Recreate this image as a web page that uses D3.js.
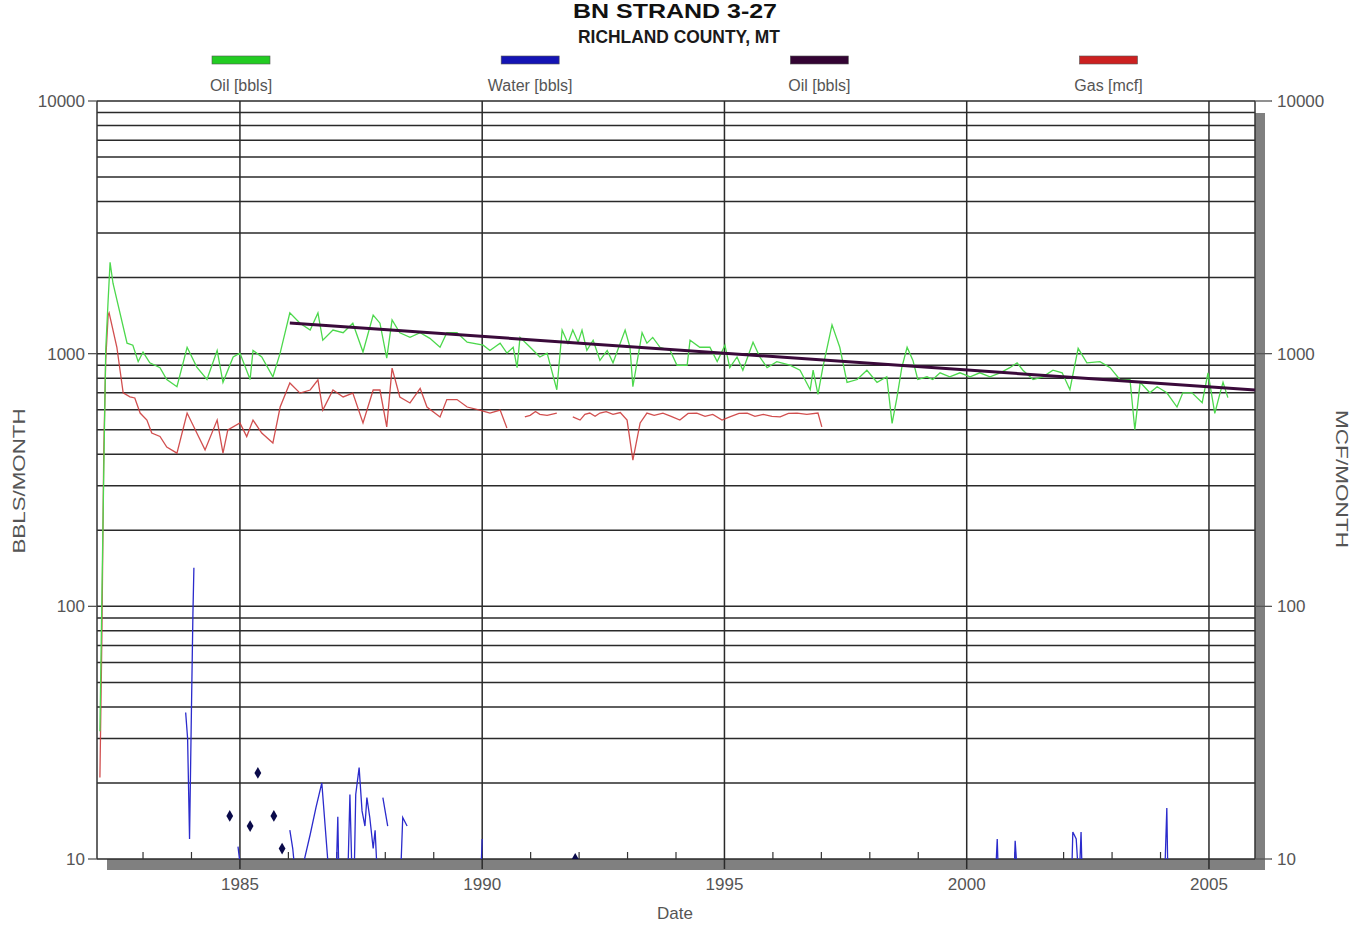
<!DOCTYPE html>
<html>
<head>
<meta charset="utf-8">
<script src="https://cdn.jsdelivr.net/npm/d3@7"></script>
<style>
  html, body { margin: 0; padding: 0; background: #ffffff; }
  svg { display: block; }
  text { font-family: "Liberation Sans", Arial, sans-serif; }
</style>
</head>
<body>
<svg id="chart" width="1364" height="926"></svg>
<script>
// ---- Well production history: [decimal year, monthly volume] ----
const oilMonthly = [
  [1982.11, 32], [1982.15, 106], [1982.19, 346], [1982.23, 1035], [1982.28, 1630], [1982.32, 2300],
  [1982.38, 1900], [1982.67, 1100], [1982.79, 1080], [1982.90, 930], [1983.00, 1015], [1983.14, 920],
  [1983.35, 880], [1983.49, 790], [1983.70, 740], [1983.91, 1060], [1984.11, 885], [1984.32, 790],
  [1984.53, 1030], [1984.65, 770], [1984.86, 970], [1985.00, 1005], [1985.21, 790], [1985.27, 1030],
  [1985.45, 970], [1985.68, 810], [1985.83, 1005], [1986.03, 1450], [1986.24, 1320], [1986.45, 1240],
  [1986.61, 1450], [1986.71, 1130], [1986.92, 1240], [1987.13, 1210], [1987.33, 1320], [1987.54, 1015],
  [1987.75, 1420], [1987.89, 1320], [1988.03, 960], [1988.14, 1360], [1988.30, 1210], [1988.51, 1160],
  [1988.72, 1210], [1988.92, 1150], [1989.13, 1060], [1989.27, 1210], [1989.48, 1210], [1989.69, 1110],
  [1990.02, 1080], [1990.16, 1030], [1990.37, 1100], [1990.51, 1005], [1990.64, 1060], [1990.72, 880],
  [1990.78, 1160], [1990.99, 1060], [1991.19, 970], [1991.34, 1005], [1991.54, 720], [1991.65, 1240],
  [1991.77, 1100], [1991.87, 1240], [1991.98, 1110], [1992.06, 1240], [1992.16, 1030], [1992.29, 1130],
  [1992.43, 940], [1992.58, 1030], [1992.70, 920], [1992.95, 1240], [1993.05, 1060], [1993.11, 740],
  [1993.30, 1210], [1993.40, 1100], [1993.52, 1160], [1993.67, 1060], [1993.88, 1030], [1994.02, 900],
  [1994.23, 900], [1994.29, 1130], [1994.49, 1060], [1994.70, 1060], [1994.85, 930], [1995.01, 1080],
  [1995.11, 880], [1995.26, 970], [1995.38, 860], [1995.59, 1110], [1995.73, 970], [1995.88, 880],
  [1996.08, 930], [1996.35, 900], [1996.56, 860], [1996.77, 720], [1996.83, 860], [1996.93, 690],
  [1997.03, 880], [1997.22, 1300], [1997.38, 1060], [1997.53, 770], [1997.74, 790], [1997.94, 860],
  [1998.15, 770], [1998.35, 810], [1998.46, 530], [1998.56, 670], [1998.66, 880], [1998.77, 1060],
  [1998.89, 940], [1998.99, 790], [1999.18, 810], [1999.30, 790], [1999.45, 840], [1999.65, 810],
  [1999.86, 840], [2000.07, 810], [2000.27, 840], [2000.48, 810], [2000.69, 840], [2000.89, 880],
  [2001.04, 920], [2001.16, 860], [2001.37, 790], [2001.57, 810], [2001.78, 860], [2001.97, 840],
  [2002.13, 720], [2002.30, 1050], [2002.48, 920], [2002.75, 930], [2002.96, 880], [2003.16, 790],
  [2003.37, 790], [2003.47, 500], [2003.58, 770], [2003.78, 700], [2003.93, 740], [2004.13, 700],
  [2004.34, 615], [2004.46, 700], [2004.65, 700], [2004.86, 640], [2004.98, 840], [2005.12, 580],
  [2005.23, 700], [2005.29, 770], [2005.39, 670]
];

// null marks a break in reporting
const gasMonthly = [
  [1982.11, 21], [1982.15, 74], [1982.19, 416], [1982.23, 944], [1982.28, 1420], [1982.30, 1450],
  [1982.46, 1060], [1982.59, 700], [1982.73, 675], [1982.83, 668], [1982.94, 582], [1983.08, 546],
  [1983.18, 485], [1983.35, 470], [1983.49, 427], [1983.70, 404], [1983.91, 582], [1984.11, 485],
  [1984.28, 416], [1984.53, 546], [1984.65, 404], [1984.75, 499], [1985.00, 532], [1985.14, 470],
  [1985.27, 546], [1985.45, 485], [1985.68, 443], [1985.83, 615], [1986.03, 766], [1986.24, 698],
  [1986.45, 718], [1986.61, 787], [1986.71, 598], [1986.92, 718], [1987.13, 674], [1987.33, 698],
  [1987.54, 532], [1987.75, 718], [1987.89, 718], [1988.03, 513], [1988.14, 877], [1988.30, 674],
  [1988.51, 638], [1988.72, 728], [1988.86, 615], [1989.13, 562], [1989.27, 658], [1989.48, 658],
  [1989.69, 615], [1989.95, 598], [1990.16, 582], [1990.37, 598], [1990.51, 508], [1990.60, null],
  [1990.88, 562], [1990.99, 570], [1991.10, 590], [1991.19, 575], [1991.34, 570], [1991.54, 582],
  [1991.70, null],
  [1991.87, 562], [1992.02, 546], [1992.12, 575], [1992.22, 582], [1992.33, 565], [1992.43, 582],
  [1992.56, 590], [1992.70, 575], [1992.85, 585], [1992.99, 546], [1993.11, 379], [1993.26, 532],
  [1993.40, 582], [1993.55, 570], [1993.73, 582], [1993.90, 565], [1994.08, 546], [1994.25, 580],
  [1994.43, 582], [1994.60, 565], [1994.76, 575], [1994.95, 546], [1995.11, 562], [1995.30, 580],
  [1995.47, 582], [1995.63, 565], [1995.80, 575], [1995.98, 565], [1996.15, 562], [1996.32, 580],
  [1996.50, 582], [1996.70, 575], [1996.93, 582], [1997.01, 513]
];

// values under 10 run off the bottom of the log axis
const waterMonthly = [
  [1983.88, 38], [1983.92, 30], [1983.96, 12], [1984.00, 40], [1984.03, 94], [1984.05, 142], [1984.06, null],
  [1984.96, 11.2], [1985.02, 9], [1985.03, null],
  [1986.03, 13], [1986.09, 11], [1986.16, 8], [1986.30, 9.4], [1986.45, 12.5], [1986.57, 16],
  [1986.69, 20], [1986.82, 9.5], [1986.99, 9], [1987.02, 14.7], [1987.04, 9], [1987.23, 9],
  [1987.27, 18], [1987.31, 9], [1987.36, 9], [1987.39, 18], [1987.46, 23], [1987.52, 15.5],
  [1987.58, 13.5], [1987.62, 17.5], [1987.68, 14.6], [1987.75, 11], [1987.79, 13], [1987.83, 9],
  [1987.90, null],
  [1987.95, 17.5], [1988.05, 13.5], [1988.10, null],
  [1988.32, 9], [1988.36, 14.6], [1988.45, 13.5], [1988.50, null],
  [1989.98, 9.5], [1990.00, 12], [1990.02, null],
  [2000.60, 9], [2000.63, 12], [2000.65, 9], [2000.70, null],
  [2000.98, 9], [2001.00, 11.8], [2001.04, 9], [2001.10, null],
  [2002.17, 9], [2002.19, 12.8], [2002.26, 12], [2002.30, 9], [2002.33, 9], [2002.36, 12.8], [2002.38, 9],
  [2002.45, null],
  [2004.09, 9], [2004.13, 15.9], [2004.15, 9]
];

// isolated single-month water volumes
const waterSingles = [
  [1984.79, 14.8], [1985.21, 13.5], [1985.37, 21.9], [1985.70, 14.8], [1985.87, 11], [1991.92, 10]
];

// oil decline curve end points
const oilDecline = [[1986.03, 1322], [2005.95, 718]];

const legendItems = [
  { label: "Oil [bbls]", color: "#22cc22" },
  { label: "Water [bbls]", color: "#1414b4" },
  { label: "Oil [bbls]", color: "#330433" },
  { label: "Gas [mcf]", color: "#cc2020" }
];

const yearLabels = [1985, 1990, 1995, 2000, 2005];
const yearMinor = d3.range(1983, 2006);
const logLabels = [10, 100, 1000, 10000];

// ---- layout ----
const svg = d3.select("#chart");
const plot = { left: 97, right: 1255, top: 101, bottom: 859 };
const shadowOff = 11;

const x = d3.scaleLinear().domain([1982.05, 2005.95]).range([plot.left, plot.right]);
const y = d3.scaleLog().domain([10, 10000]).range([plot.bottom, plot.top]);

// titles
svg.append("text")
  .attr("x", 675).attr("y", 18)
  .attr("text-anchor", "middle")
  .attr("font-family", "'Liberation Sans Narrow', 'Liberation Sans', Arial, sans-serif")
  .attr("font-weight", "bold").attr("font-size", 21).attr("fill", "#111")
  .attr("textLength", 204).attr("lengthAdjust", "spacingAndGlyphs")
  .text("BN STRAND 3-27");
svg.append("text")
  .attr("x", 679).attr("y", 43)
  .attr("text-anchor", "middle")
  .attr("font-family", "'Liberation Sans Narrow', 'Liberation Sans', Arial, sans-serif")
  .attr("font-weight", "bold").attr("font-size", 19).attr("fill", "#1a1a1a")
  .attr("textLength", 202).attr("lengthAdjust", "spacingAndGlyphs")
  .text("RICHLAND COUNTY, MT");

// legend
const legendX = d3.scalePoint().domain(d3.range(legendItems.length)).range([241, 1108.5]);
const lg = svg.append("g").selectAll("g").data(legendItems).join("g")
  .attr("transform", (d, i) => `translate(${legendX(i)},0)`);
lg.append("rect")
  .attr("x", -29).attr("y", 56).attr("width", 58).attr("height", 8)
  .attr("fill", d => d.color).attr("stroke", "#555").attr("stroke-width", 0.6);
lg.append("text")
  .attr("x", 0).attr("y", 91).attr("text-anchor", "middle")
  .attr("font-size", 16).attr("fill", "#555")
  .text(d => d.label);

// drop shadow of the plot frame
svg.append("rect")
  .attr("x", plot.left + 10).attr("y", plot.bottom)
  .attr("width", plot.right - plot.left).attr("height", shadowOff)
  .attr("fill", "#808080");
svg.append("rect")
  .attr("x", plot.right).attr("y", plot.top + 12)
  .attr("width", 10).attr("height", plot.bottom - plot.top - 12 + shadowOff)
  .attr("fill", "#808080");

// horizontal log grid
const gridVals = [];
[10, 100, 1000].forEach(dec => { for (let k = 1; k <= 9; k++) gridVals.push(dec * k); });
gridVals.push(10000);
svg.append("g").selectAll("line").data(gridVals).join("line")
  .attr("x1", plot.left).attr("x2", plot.right)
  .attr("y1", d => y(d)).attr("y2", d => y(d))
  .attr("stroke", "#2a2a2a").attr("stroke-width", 1.5);

// vertical year grid
svg.append("g").selectAll("line").data(yearLabels).join("line")
  .attr("x1", d => x(d)).attr("x2", d => x(d))
  .attr("y1", plot.top).attr("y2", plot.bottom + shadowOff - 1)
  .attr("stroke", "#2a2a2a").attr("stroke-width", 1.5);

// frame
svg.append("line").attr("x1", plot.left).attr("x2", plot.left)
  .attr("y1", plot.top).attr("y2", plot.bottom).attr("stroke", "#333").attr("stroke-width", 1.5);
svg.append("line").attr("x1", plot.right).attr("x2", plot.right)
  .attr("y1", plot.top).attr("y2", plot.bottom).attr("stroke", "#333").attr("stroke-width", 1.5);

// minor yearly ticks on the bottom edge
svg.append("g").selectAll("line").data(yearMinor.filter(v => !yearLabels.includes(v))).join("line")
  .attr("x1", d => x(d)).attr("x2", d => x(d))
  .attr("y1", plot.bottom - 7).attr("y2", plot.bottom)
  .attr("stroke", "#333").attr("stroke-width", 1.2);

// left and right decade ticks + labels
const yTickG = svg.append("g");
yTickG.selectAll("line.l").data(logLabels).join("line").attr("class", "l")
  .attr("x1", plot.left - 9).attr("x2", plot.left)
  .attr("y1", d => y(d)).attr("y2", d => y(d))
  .attr("stroke", "#555").attr("stroke-width", 1.3);
yTickG.selectAll("line.r").data(logLabels).join("line").attr("class", "r")
  .attr("x1", plot.right).attr("x2", plot.right + 17)
  .attr("y1", d => y(d)).attr("y2", d => y(d))
  .attr("stroke", "#555").attr("stroke-width", 1.3);
yTickG.selectAll("text.l").data(logLabels).join("text").attr("class", "l")
  .attr("x", plot.left - 12).attr("y", d => y(d) + 6)
  .attr("text-anchor", "end").attr("font-size", 17).attr("fill", "#555")
  .text(d => d);
yTickG.selectAll("text.r").data(logLabels).join("text").attr("class", "r")
  .attr("x", plot.right + 22).attr("y", d => y(d) + 6)
  .attr("text-anchor", "start").attr("font-size", 17).attr("fill", "#555")
  .text(d => d);

// year labels
svg.append("g").selectAll("text").data(yearLabels).join("text")
  .attr("x", d => x(d)).attr("y", 890)
  .attr("text-anchor", "middle").attr("font-size", 17).attr("fill", "#555")
  .text(d => d);

// axis titles
svg.append("text").attr("x", 675).attr("y", 919).attr("text-anchor", "middle")
  .attr("font-size", 17).attr("fill", "#555").text("Date");
svg.append("text")
  .attr("transform", "translate(25,481) rotate(-90)")
  .attr("text-anchor", "middle").attr("font-size", 17).attr("fill", "#555")
  .attr("textLength", 145).attr("lengthAdjust", "spacingAndGlyphs")
  .text("BBLS/MONTH");
svg.append("text")
  .attr("transform", "translate(1336,479) rotate(90)")
  .attr("text-anchor", "middle").attr("font-size", 17).attr("fill", "#555")
  .attr("textLength", 138).attr("lengthAdjust", "spacingAndGlyphs")
  .text("MCF/MONTH");

// ---- series ----
svg.append("clipPath").attr("id", "plotClip").append("rect")
  .attr("x", plot.left).attr("y", plot.top)
  .attr("width", plot.right - plot.left).attr("height", plot.bottom - plot.top);
const series = svg.append("g").attr("clip-path", "url(#plotClip)");

const line = d3.line()
  .defined(d => d[1] != null)
  .x(d => x(d[0])).y(d => y(d[1]));

series.append("path").datum(waterMonthly)
  .attr("d", line).attr("fill", "none")
  .attr("stroke", "#2b2bcc").attr("stroke-width", 1.3);

series.append("path").datum(gasMonthly)
  .attr("d", line).attr("fill", "none")
  .attr("stroke", "#cc3c3c").attr("stroke-width", 1.3).attr("stroke-opacity", 0.9);

series.append("path").datum(oilMonthly)
  .attr("d", line).attr("fill", "none")
  .attr("stroke", "#4cd84c").attr("stroke-width", 1.3);

series.append("path").datum(oilDecline)
  .attr("d", line).attr("fill", "none")
  .attr("stroke", "#3a0a3a").attr("stroke-width", 3);

series.selectAll("path.single").data(waterSingles).join("path").attr("class", "single")
  .attr("transform", d => `translate(${x(d[0])},${y(d[1])})`)
  .attr("d", d3.symbol(d3.symbolDiamond, 40))
  .attr("fill", "#0a0a4a");
</script>
</body>
</html>
